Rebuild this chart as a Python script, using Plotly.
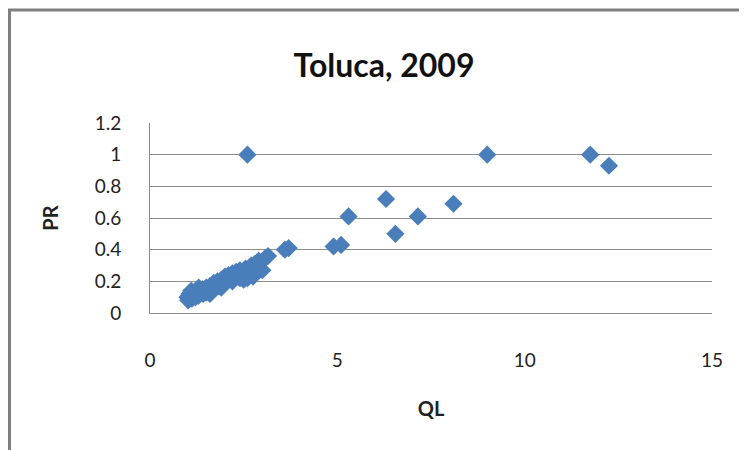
import plotly.graph_objects as go

# QL / PR pairs
ql = [1.0, 1.02, 1.05, 1.1, 1.12, 1.15, 1.2, 1.22, 1.28, 1.3, 1.35, 1.4, 1.42,
      1.5, 1.5, 1.55, 1.6, 1.65, 1.7, 1.72, 1.8, 1.82, 1.9, 1.95, 2.0, 2.05,
      2.1, 2.15, 2.2, 2.3, 2.35, 2.4, 2.45, 2.5, 2.55, 2.6, 2.7, 2.75, 2.8,
      2.9, 3.0, 3.05, 3.15, 3.6, 3.7, 4.9, 5.1, 5.3, 6.3, 6.55, 7.15, 8.1,
      2.6, 9.0, 11.75, 12.25,
      1.1, 1.3, 1.6, 1.9, 2.2, 2.4, 2.6, 2.85]
pr = [0.10, 0.08, 0.12, 0.11, 0.09, 0.13, 0.12, 0.10, 0.14, 0.11, 0.13, 0.15, 0.12,
      0.16, 0.13, 0.14, 0.17, 0.15, 0.19, 0.16, 0.20, 0.17, 0.21, 0.19, 0.23, 0.20,
      0.24, 0.22, 0.25, 0.26, 0.23, 0.27, 0.25, 0.21, 0.28, 0.26, 0.30, 0.23, 0.31,
      0.33, 0.27, 0.34, 0.36, 0.40, 0.41, 0.42, 0.43, 0.61, 0.72, 0.50, 0.61, 0.69,
      1.0, 1.0, 1.0, 0.93,
      0.14, 0.16, 0.12, 0.16, 0.20, 0.22, 0.22, 0.27]

font_family = "Lato, 'Open Sans', sans-serif"
grid_color = '#8c8c8c'

fig = go.Figure(go.Scatter(
    x=ql, y=pr, mode='markers',
    marker=dict(symbol='diamond', size=14, color='#4a7ebb'),
))

# plot area in figure pixels (page has an 8px body margin)
ml, mt, pw, ph = 142, 115, 562, 190

def xp(px):
    return (px - ml) / pw

def yp(py):
    return (mt + ph - py) / ph

# chart frame (only left and top edges visible in the reference)
fig.add_shape(type='rect', xref='paper', yref='paper',
              x0=xp(1.5), x1=xp(800), y0=yp(480), y1=yp(2),
              line=dict(color='#808080', width=3), layer='below')

fig.update_layout(
    width=747, height=450,
    paper_bgcolor='white', plot_bgcolor='white',
    margin=dict(l=ml, r=747 - ml - pw, t=mt, b=450 - mt - ph),
    font=dict(family=font_family, color='#222222', size=19),
    title=dict(text='<b>Toluca, 2009</b>', x=376 / 747, xref='container',
               y=1 - 58 / 450, yref='container', xanchor='center', yanchor='middle',
               font=dict(size=32, color='#111111')),
    showlegend=False,
    xaxis=dict(range=[0, 15], tickvals=[0, 5, 10, 15], showgrid=False,
               zeroline=False, showline=True, linecolor=grid_color, linewidth=1,
               ticks='', ticklabelstandoff=30,
               title=dict(text='<b>QL</b>', font=dict(size=20), standoff=32)),
    yaxis=dict(range=[0, 1.2], tickvals=[0, 0.2, 0.4, 0.6, 0.8, 1, 1.2],
               ticktext=['0', '0.2', '0.4', '0.6', '0.8', '1', '1.2'],
               showgrid=True, gridcolor=grid_color, gridwidth=1,
               zeroline=False, showline=True, linecolor=grid_color, linewidth=1,
               ticks='', ticklabelstandoff=24,
               title=dict(text='<b>PR</b>', font=dict(size=20), standoff=30)),
)

fig.write_html("out.html")
